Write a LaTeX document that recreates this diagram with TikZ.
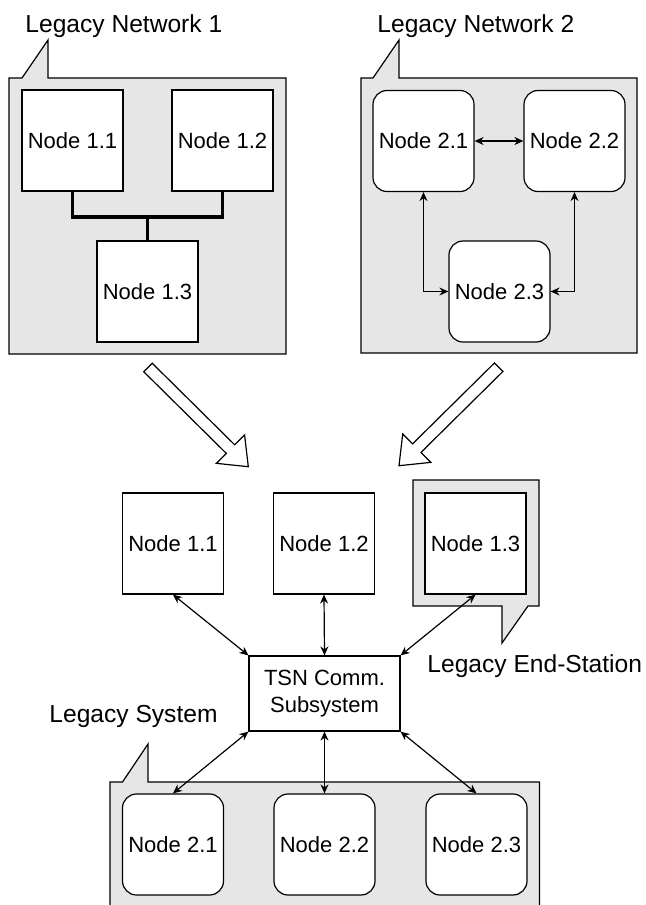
\documentclass[tikz,border=0pt]{standalone}
\usepackage{fontspec}
\setmainfont{Liberation Sans}
\usetikzlibrary{ 
	calc,
	arrows.meta,
	positioning
	}
\definecolor{calloutgray}{HTML}{E6E6E6}
\tikzstyle{box-std}=[draw, fill=white, line width=0.6pt, minimum width=50.5pt, minimum height=50.5pt, inner sep=0pt, font={\fontsize{11pt}{13.5pt}\selectfont}]
\tikzstyle{box-round}=[box-std, rounded corners=7pt]
\tikzstyle{callout-std}=[draw, fill=calloutgray, line width=0.6pt, line join=miter]
\tikzstyle{label-std}=[inner sep=0pt, anchor=base west, font={\fontsize{12.3pt}{14pt}\selectfont}]
\tikzstyle{link-std}=[line width=0.6pt, {Stealth[length=4.5pt,width=4pt]}-{Stealth[length=4.5pt,width=4pt]}]
\tikzstyle{bus-std}=[line width=1.6pt, line join=miter]
\tikzstyle{fat-arrow}=[draw, fill=white, line width=0.6pt, line join=miter]
% hollow arrow from tail coordinate #1 to tip coordinate #2
\newcommand{\fatarrow}[2]{%
  \coordinate (#1-base) at ($(#2)!12.5pt!(#1)$);
  \draw[fat-arrow] ($(#1)!3pt!90:(#2)$) -- ($(#1-base)!3pt!90:(#2)$)
     -- ($(#1-base)!10pt!90:(#2)$) -- (#2) -- ($(#1-base)!10pt!-90:(#2)$)
     -- ($(#1-base)!3pt!-90:(#2)$) -- ($(#1)!3pt!-90:(#2)$) -- cycle;
}

\begin{document}
\begin{tikzpicture}[x=0.5pt, y=-0.5pt]
            \useasboundingbox (0,0) rectangle (646,905);
            %
            % Legacy Network 1
            \draw[callout-std] (9,78) -- (22,78) -- (48,40) -- (48,78) -- (286,78) -- (286,354) -- (9,354) -- cycle;
            \node[label-std] (ln1) at (25,32) {Legacy Network 1};
            \node[box-std] (n1-1) at (72.5,140.5) {Node 1.1};
            \node[box-std] (n1-2) at (222.5,140.5) {Node 1.2};
            \node[box-std] (n1-3) at (147.5,291.5) {Node 1.3};
            \coordinate (bus) at (147.5,217);
            \draw[bus-std] (n1-1.south) |- (bus) -| (n1-2.south);
            \draw[bus-std] (bus) -- (n1-3.north);

            % Legacy Network 2
            \draw[callout-std] (361,78) -- (373,78) -- (399,40) -- (399,78) -- (637,78) -- (637,353) -- (361,353) -- cycle;
            \node[label-std] (ln2) at (377,32) {Legacy Network 2};
            \node[box-round] (n2-1) at (423.5,141) {Node 2.1};
            \node[box-round] (n2-2) at (574.5,141) {Node 2.2};
            \node[box-round] (n2-3) at (499.5,291.5) {Node 2.3};
            \draw[link-std] (n2-1.east) -- (n2-2.west);
            \draw[link-std] (n2-1.south) |- (n2-3.west);
            \draw[link-std] (n2-2.south) |- (n2-3.east);

            % migration arrows
            \coordinate (mig1) at (148,367.5);
            \coordinate (mig1-tip) at (248.3,466.7);
            \coordinate (mig2) at (498.7,367.2);
            \coordinate (mig2-tip) at (399,465.7);
            \fatarrow{mig1}{mig1-tip}
            \fatarrow{mig2}{mig2-tip}

            % TSN system
            \draw[callout-std] (413,480) -- (539,480) -- (539,606) -- (528,606) -- (502,643) -- (502,606) -- (413,606) -- cycle;
            \node[label-std] (les) at (427,672) {Legacy End-Station};
            \node[box-std] (b1-1) at (173,543.5) {Node 1.1};
            \node[box-std] (b1-2) at (324,543.5) {Node 1.2};
            \node[box-std] (b1-3) at (475.5,543.5) {Node 1.3};
            \node[box-std, minimum width=75.5pt, minimum height=37.5pt, align=center] (tsn) at (324.5,693.5) {TSN Comm.\\Subsystem};

            \begin{scope}
              \clip (0,0) rectangle (646,905);
              \draw[callout-std] (110,782) -- (122.5,782) -- (148,744) -- (148,782) -- (539.5,782) -- (539.5,930) -- (110,930) -- cycle;
              \node[box-round] (b2-1) at (173,844.5) {Node 2.1};
              \node[box-round] (b2-2) at (324.5,844.5) {Node 2.2};
              \node[box-round] (b2-3) at (476.5,844.5) {Node 2.3};
            \end{scope}
            \node[label-std] (lsys) at (49,722) {Legacy System};

            \draw[link-std] (b1-1.south) -- (tsn.north west);
            \draw[link-std] (b1-2.south) -- (tsn.north);
            \draw[link-std] (b1-3.south) -- (tsn.north east);
            \draw[link-std] (tsn.south west) -- (b2-1.north);
            \draw[link-std] (tsn.south) -- (b2-2.north);
            \draw[link-std] (tsn.south east) -- (b2-3.north);
        \end{tikzpicture}
\end{document}
